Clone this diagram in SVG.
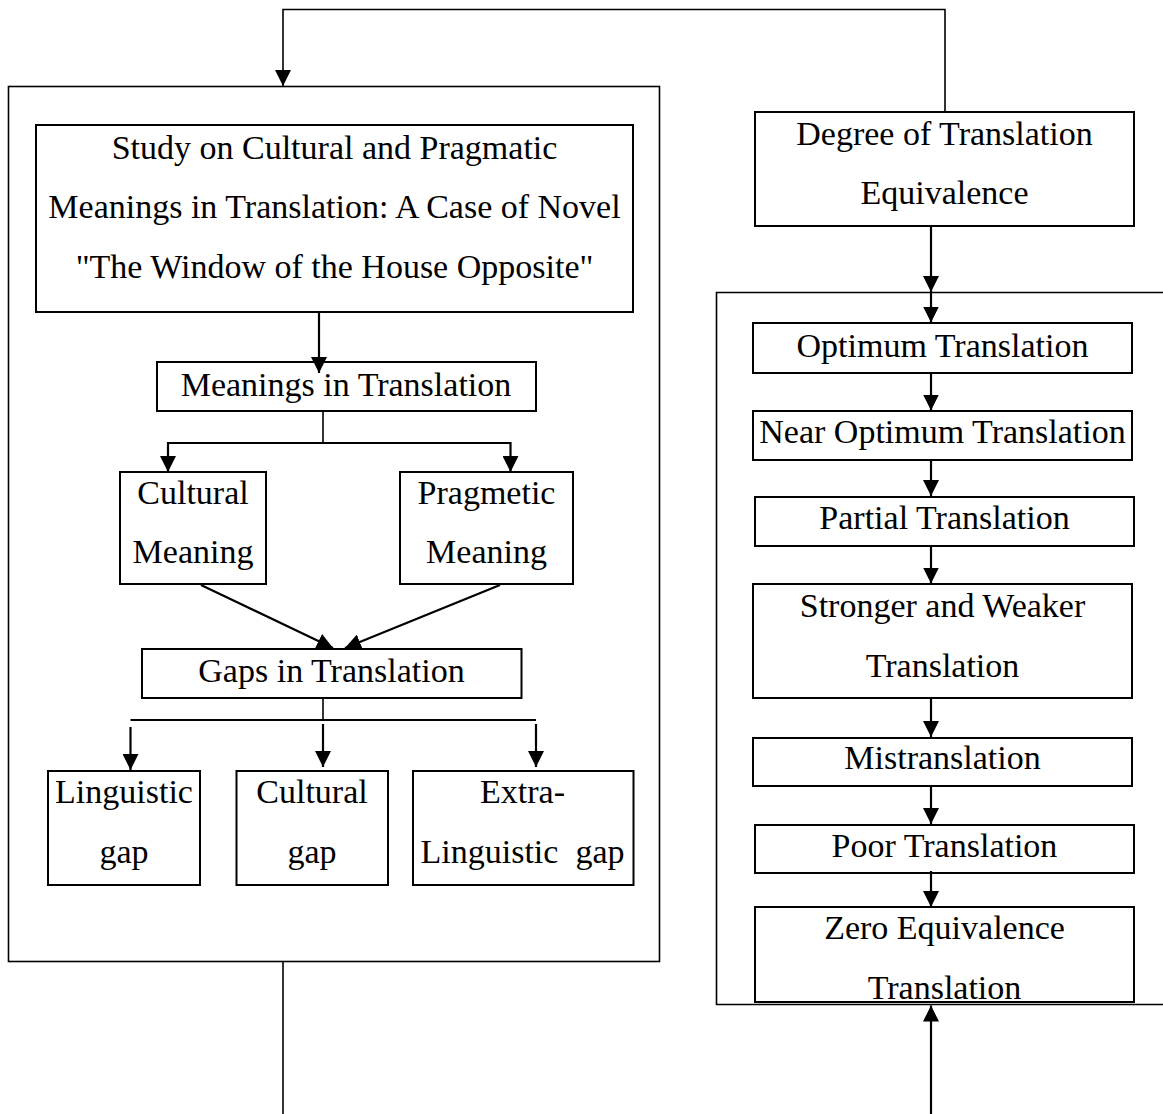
<svg xmlns="http://www.w3.org/2000/svg" width="1163" height="1114" viewBox="0 0 1163 1114">
<style>
.box{fill:#fff;stroke:#000;stroke-width:2}
.frame{fill:none;stroke:#000;stroke-width:1.6}
.t{font-family:"Liberation Serif","Times New Roman",serif;font-size:34px;fill:#000;text-anchor:middle}
.c{fill:none;stroke:#000;stroke-width:2.2}
.cl{fill:none;stroke:#000;stroke-width:1.6}
</style>
<defs>
<marker id="ah" viewBox="0 0 16 16" refX="16" refY="8" markerWidth="16" markerHeight="16" markerUnits="userSpaceOnUse" orient="auto">
<path d="M0,0 L16,8 L0,16 z" fill="#000"/>
</marker>
</defs>
<rect width="1163" height="1114" fill="#fff"/>
<g id="frames">
<rect id="left-frame" class="frame" x="8.5" y="86.5" width="651" height="875"/>
<path id="right-frame" class="frame" d="M1170,292.5 H716.5 V1004.5 H1170"/>
</g>
<g id="node-title">
<rect class="box" x="36" y="125" width="597" height="187"/>
<text class="t" x="334.5" y="159">Study on Cultural and Pragmatic</text>
<text class="t" x="334.5" y="218">Meanings in Translation: A Case of Novel</text>
<text class="t" x="334.5" y="278">"The Window of the House Opposite"</text>
</g>
<g id="node-meanings">
<rect class="box" x="157" y="362" width="379" height="49"/>
<text class="t" x="346" y="396">Meanings in Translation</text>
</g>
<g id="node-cultural-meaning">
<rect class="box" x="120" y="472" width="146" height="112"/>
<text class="t" x="193" y="504">Cultural</text>
<text class="t" x="193" y="563">Meaning</text>
</g>
<g id="node-pragmatic-meaning">
<rect class="box" x="400" y="472" width="173" height="112"/>
<text class="t" x="486.5" y="504">Pragmetic</text>
<text class="t" x="486.5" y="563">Meaning</text>
</g>
<g id="node-gaps">
<rect class="box" x="142" y="649" width="379.5" height="49"/>
<text class="t" x="331.5" y="682">Gaps in Translation</text>
</g>
<g id="node-linguistic-gap">
<rect class="box" x="48" y="771" width="152" height="114"/>
<text class="t" x="124" y="803">Linguistic</text>
<text class="t" x="124" y="863">gap</text>
</g>
<g id="node-cultural-gap">
<rect class="box" x="236.5" y="771" width="151.5" height="114"/>
<text class="t" x="312" y="803">Cultural</text>
<text class="t" x="312" y="863">gap</text>
</g>
<g id="node-extra-linguistic-gap">
<rect class="box" x="413" y="771" width="220.5" height="114"/>
<text class="t" x="522.5" y="803">Extra-</text>
<text class="t" x="522.5" y="863" xml:space="preserve">Linguistic  gap</text>
</g>
<g id="node-degree">
<rect class="box" x="755" y="112" width="379" height="114"/>
<text class="t" x="944.5" y="145">Degree of Translation</text>
<text class="t" x="944.5" y="204">Equivalence</text>
</g>
<g id="node-optimum">
<rect class="box" x="753" y="323" width="379" height="50"/>
<text class="t" x="942.5" y="357">Optimum Translation</text>
</g>
<g id="node-near-optimum">
<rect class="box" x="753" y="411" width="379" height="49"/>
<text class="t" x="942.5" y="443">Near Optimum Translation</text>
</g>
<g id="node-partial">
<rect class="box" x="755" y="497" width="379" height="49"/>
<text class="t" x="944.5" y="529">Partial Translation</text>
</g>
<g id="node-stronger-weaker">
<rect class="box" x="753" y="584" width="379" height="114"/>
<text class="t" x="942.5" y="617">Stronger and Weaker</text>
<text class="t" x="942.5" y="677">Translation</text>
</g>
<g id="node-mistranslation">
<rect class="box" x="753" y="738" width="379" height="48"/>
<text class="t" x="942.5" y="769">Mistranslation</text>
</g>
<g id="node-poor">
<rect class="box" x="755" y="825" width="379" height="48"/>
<text class="t" x="944.5" y="857">Poor Translation</text>
</g>
<g id="node-zero">
<rect class="box" x="755" y="907" width="379" height="95"/>
<text class="t" x="944.5" y="939">Zero Equivalence</text>
<text class="t" x="944.5" y="999">Translation</text>
</g>
<g id="connectors">
<path class="cl" d="M945,112 V9.5 H283 V86" marker-end="url(#ah)"/>
<path class="cl" d="M283,962 V1114"/>
<path class="c" d="M931,1114 V1005.5" marker-end="url(#ah)"/>
<path class="c" d="M319,313 V373" marker-end="url(#ah)"/>
<path class="cl" d="M323,412 V443"/>
<path class="c" d="M168,443 H510.5"/>
<path class="c" d="M168,442 V472" marker-end="url(#ah)"/>
<path class="c" d="M510.5,442 V472" marker-end="url(#ah)"/>
<path class="c" d="M201,585 L333,648" marker-end="url(#ah)"/>
<path class="c" d="M500,585 L345,648" marker-end="url(#ah)"/>
<path class="cl" d="M323,699 V720"/>
<path class="c" d="M130.5,720 H536"/>
<path class="c" d="M130.5,727 V770" marker-end="url(#ah)"/>
<path class="c" d="M323,724 V767" marker-end="url(#ah)"/>
<path class="c" d="M536,724 V767" marker-end="url(#ah)"/>
<path class="c" d="M931,227 V292" marker-end="url(#ah)"/>
<path class="c" d="M931,293 V322.5" marker-end="url(#ah)"/>
<path class="c" d="M931,374 V410.5" marker-end="url(#ah)"/>
<path class="c" d="M931,459 V496" marker-end="url(#ah)"/>
<path class="c" d="M931,547 V583.5" marker-end="url(#ah)"/>
<path class="c" d="M931,699 V737" marker-end="url(#ah)"/>
<path class="c" d="M931,787 V824" marker-end="url(#ah)"/>
<path class="c" d="M931,871 V907" marker-end="url(#ah)"/>
</g>
</svg>
